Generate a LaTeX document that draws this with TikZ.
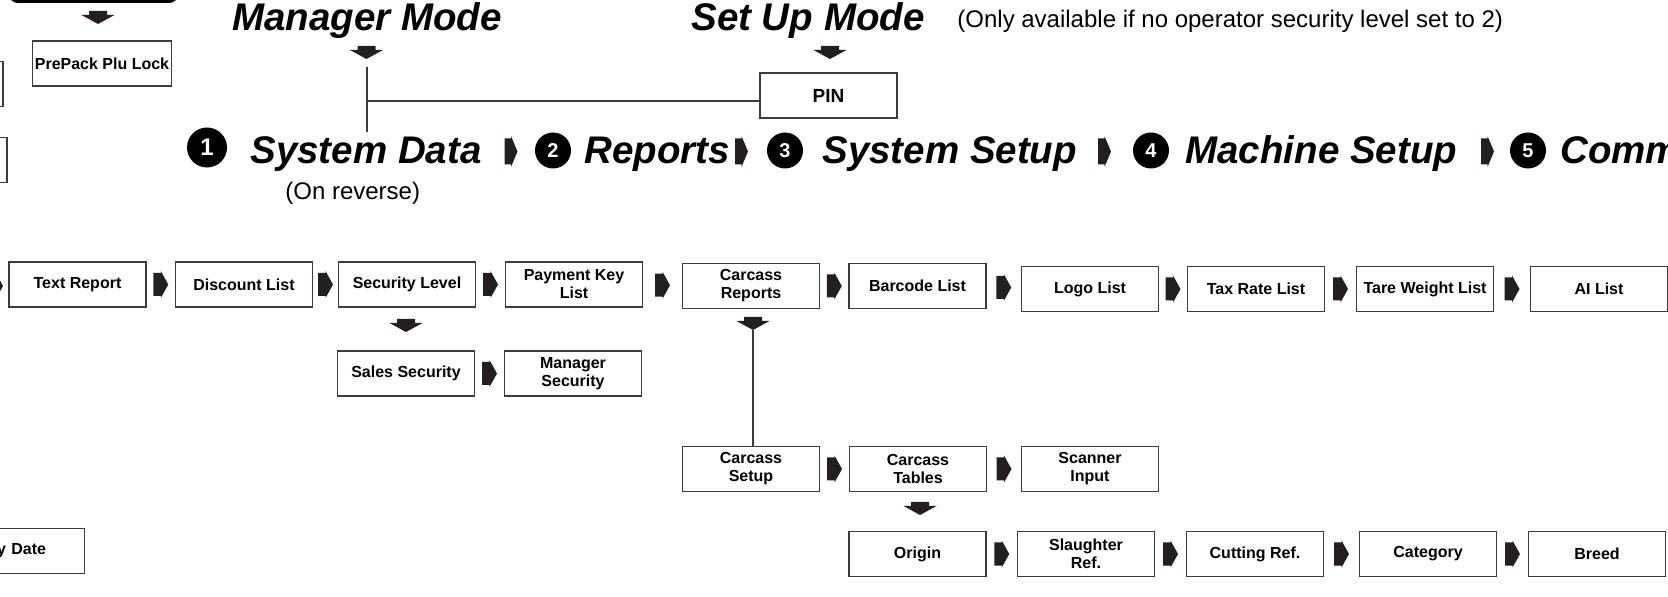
\documentclass[tikz,border=0pt]{standalone}
\usepackage{fontspec}
\setmainfont{Liberation Sans}
\usetikzlibrary{calc}

\definecolor{arrfill}{RGB}{35,31,32}
\definecolor{edge}{RGB}{60,60,60}

\tikzset{
  box/.style={draw=edge,line width=0.6pt,fill=white,minimum width=68.5pt,minimum height=22.5pt,
    align=center,inner sep=1pt,font=\bfseries\fontsize{8}{9}\selectfont},
  head/.style={anchor=base west,inner sep=0pt,font=\bfseries\itshape\fontsize{19.25}{22}\selectfont},
  note/.style={anchor=base west,inner sep=0pt,font=\fontsize{12}{14}\selectfont},
  num/.style={circle,fill=black,text=white,inner sep=0pt,minimum size=18pt,font=\bfseries\fontsize{10}{10}\selectfont},
  conn/.style={draw=edge,line width=0.6pt},
  rarr/.pic={\fill[arrfill] (-7.5,-11.5) -- (0,-11.5) -- (0,-13.5) -- (7.5,0) -- (0,13.5) -- (0,11.5) -- (-7.5,11.5) -- cycle;},
  harr/.pic={\fill[arrfill] (-6.5,-13) -- (0,-13) -- (0,-15.5) -- (6.5,0) -- (0,15.5) -- (0,13) -- (-6.5,13) -- cycle;},
  darr/.pic={\fill[arrfill] (-9,-7) -- (9,-7) -- (9,-3) -- (16.5,-3) -- (0,6) -- (-16.5,-3) -- (-9,-3) -- cycle;}
}

\begin{document}
\begin{tikzpicture}[x=0.5pt,y=-0.5pt]
  \useasboundingbox (0,0) rectangle (1668,597);

  % modes
  \node[head] (mgr) at (232,31) {Manager Mode};
  \node[head] (setup) at (691,31) {Set Up Mode};
  \node[note] (only) at (957,28) {(Only available if no operator security level set to 2)};
  \pic at (366.5,53) {darr};
  \pic at (830,53) {darr};
  \node[box,font=\bfseries\fontsize{9.5}{10}\selectfont] (pin) at (828.5,95.5) {PIN};
  \coordinate (mtop) at (367,67);
  \coordinate (mbot) at (367,132);
  \coordinate (mjoin) at (367,101);
  \draw[conn] (mtop) -- (mbot);
  \draw[conn] (mjoin) -- (mjoin -| pin.west);

  % menu headings
  \node[num,minimum size=20pt,font=\bfseries\fontsize{12}{12}\selectfont] (n1) at (207,147.5) {1};
  \node[head] (sysdata) at (250,164) {System Data};
  \node[note] (rev) at (285,200) {(On reverse)};
  \pic at (511,151.5) {harr};
  \node[num] (n2) at (553,150.5) {2};
  \node[head] (rep) at (584,164) {Reports};
  \pic at (741.5,151.5) {harr};
  \node[num] (n3) at (785,150.5) {3};
  \node[head] (sysset) at (822,164) {System Setup};
  \pic at (1104.5,151.5) {harr};
  \node[num] (n4) at (1151,150.5) {4};
  \node[head] (mach) at (1185,164) {Machine Setup};
  \pic at (1487.5,151.5) {harr};
  \node[num] (n5) at (1528,150.5) {5};
  \node[head] (comm) at (1560,164) {Comm};

  % left column (cut off)
  \node[box,minimum width=83.5pt,line width=1.5pt,draw=black,rounded corners=4pt] (topbox) at (93.5,-21) {};
  \pic at (98,18) {darr};
  \node[box] (pp) at (102,63.5) {PrePack Plu Lock};
  \node[box] (lb1) at (-65.5,84) {};
  \node[box] (lb2) at (-61.5,160) {};
  \node[box,text width=30pt,align=right,inner xsep=19pt] (yd) at (16,551) {y Date};
  \pic at (-4.5,286) {rarr};

  % row of lists
  \node[box] (tr) at (77.5,284.5) {Text Report};
  \node[box] (dl) at (244,284.5) {Discount List};
  \node[box] (sl) at (407,284.5) {Security Level};
  \node[box] (pk) at (574,284.5) {Payment Key\\List};
  \node[box] (cr) at (751,286) {Carcass\\Reports};
  \node[box] (bl) at (917.5,286) {Barcode List};
  \node[box] (ll) at (1090,289) {Logo List};
  \node[box] (tx) at (1256,289) {Tax Rate List};
  \node[box] (tw) at (1425,289) {Tare Weight List};
  \node[box] (ai) at (1599,289) {AI List};

  % security
  \pic at (406,326) {darr};
  \node[box] (ss) at (406,373.5) {Sales Security};
  \node[box] (ms) at (573,373.5) {Manager\\Security};

  % carcass
  \pic at (753,324) {darr};
  \coordinate (crdown) at (753,330);
  \node[box] (cs) at (751,469) {Carcass\\Setup};
  \node[box] (ct) at (918,469) {Carcass\\Tables};
  \node[box] (si) at (1090,469) {Scanner\\Input};
  \draw[conn] (crdown) -- (crdown |- cs.north);
  \pic at (920,509) {darr};
  \node[box] (or) at (917.5,554) {Origin};
  \node[box] (sr) at (1086,554) {Slaughter\\Ref.};
  \node[box] (cu) at (1255,554) {Cutting Ref.};
  \node[box] (ca) at (1428,554) {Category};
  \node[box] (br) at (1597,554) {Breed};

  \foreach \a/\b in {tr/dl,dl/sl,sl/pk,pk/cr,cr/bl,bl/ll,ll/tx,tx/tw,tw/ai,ss/ms,cs/ct,ct/si,or/sr,sr/cu,cu/ca,ca/br}
    \pic at ($(\a.east)!.5!(\b.west)$) {rarr};
\end{tikzpicture}
\end{document}
